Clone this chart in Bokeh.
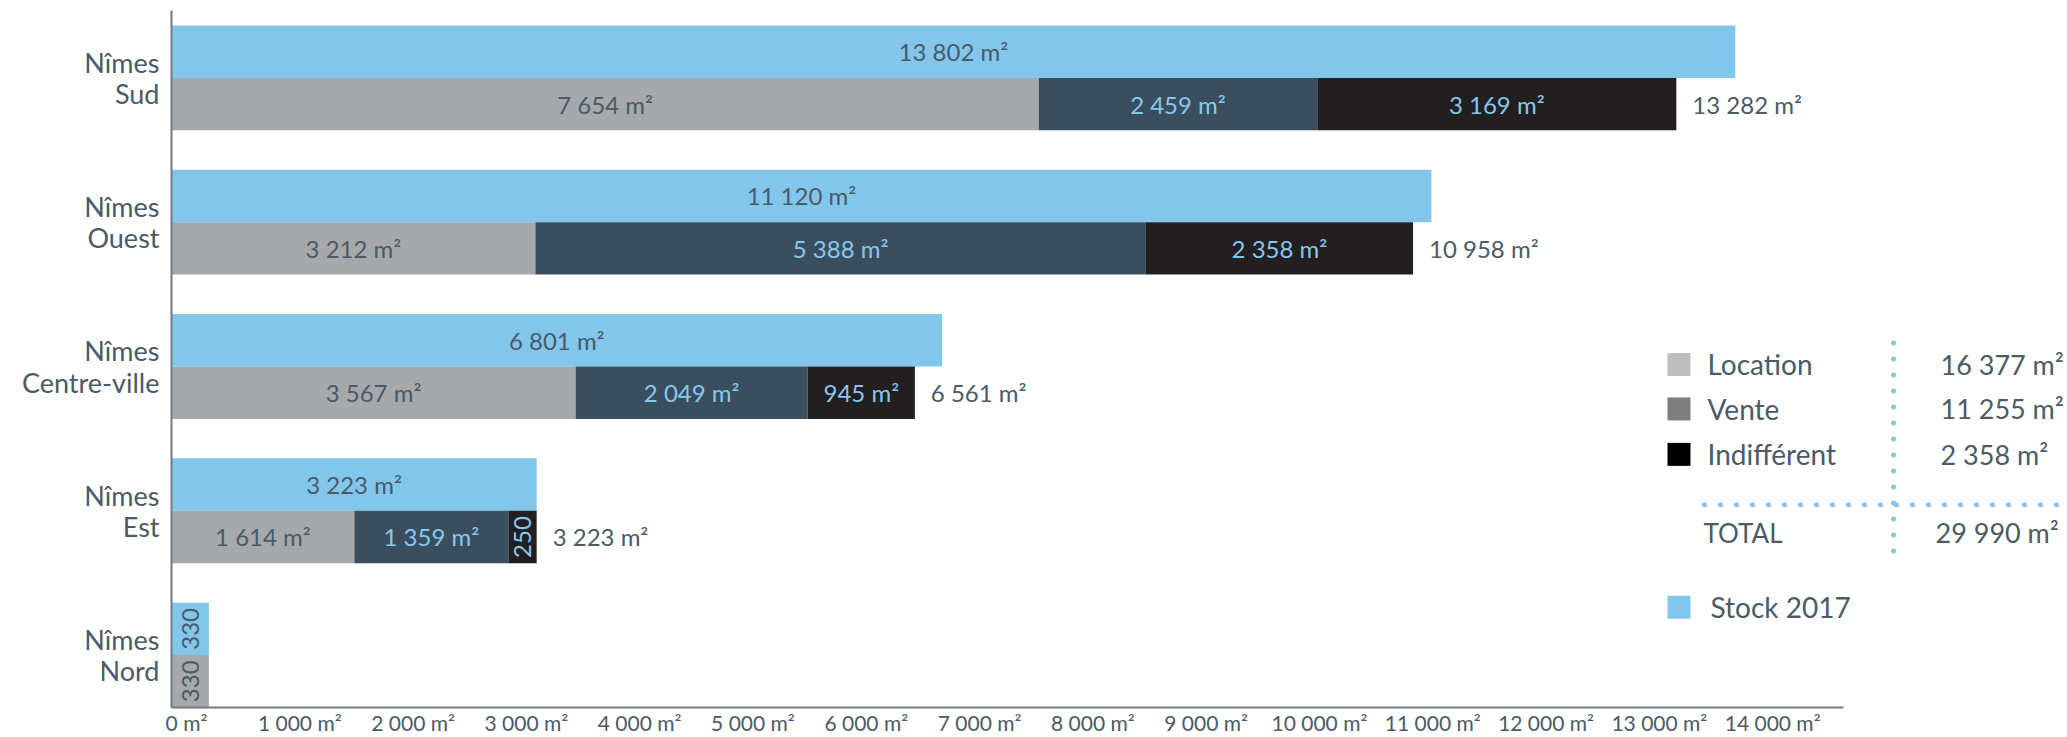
import math
from bokeh.plotting import figure
from bokeh.models import ColumnDataSource, Range1d, FixedTicker, LinearAxis
from bokeh.core.properties import value
from bokeh.embed import file_html
from bokeh.resources import INLINE

# ---------------- data ----------------
categories = ["Nîmes\nNord", "Nîmes\nEst", "Nîmes\nCentre-ville", "Nîmes\nOuest", "Nîmes\nSud"]
location = [330, 1614, 3567, 3212, 7654]
vente = [0, 1359, 2049, 5388, 2459]
indifferent = [0, 250, 945, 2358, 3169]
stock_2017 = [330, 3223, 6801, 11120, 13802]

legend_names = ["Location", "Vente", "Indifférent"]
legend_totals = [16377, 11255, 2358]
total_label = "TOTAL"
grand_total = 29990
stock_name = "Stock 2017"

x_ticks = [0, 1000, 2000, 3000, 4000, 5000, 6000, 7000, 8000, 9000, 10000, 11000, 12000, 13000, 14000]
x_tick_labels = ["0 m²", "1 000 m²", "2 000 m²", "3 000 m²", "4 000 m²", "5 000 m²", "6 000 m²",
                 "7 000 m²", "8 000 m²", "9 000 m²", "10 000 m²", "11 000 m²", "12 000 m²",
                 "13 000 m²", "14 000 m²"]

# ---------------- style ----------------
C_STOCK = "#83C6EC"
C_LOC = "#A7A8AB"
C_VENTE = "#3A4E5E"
C_IND = "#231F20"
LEG_COLORS = ["#BEBEBE", "#7F7F7F", "#000000"]
DARK = "#4A5A68"
LIGHT = "#86C8EE"
AXIS = "#6F7A85"
FONT = "Lato"

W, H = 2067, 737
F_LEFT, F_RIGHT, F_TOP, F_BOTTOM = 171, 2067, 10, 708
PX_PER_X = 0.1133
PX_PER_Y = 144.5
BAR_H = 0.3633
Y_START = -BAR_H
Y_END = Y_START + (F_BOTTOM - F_TOP) / PX_PER_Y
X_END = (F_RIGHT - F_LEFT) / PX_PER_X
TICK_SHIFT = 15 / PX_PER_X  # tick labels sit slightly right of their value


def sx(px):
    return (px - F_LEFT) / PX_PER_X


def sy(py):
    return Y_START + (F_BOTTOM - py) / PX_PER_Y


def fmt(v):
    return f"{v:,}".replace(",", " ") + " m²"


p = figure(width=W, height=H, x_range=Range1d(0, X_END), y_range=Range1d(Y_START, Y_END),
           output_backend="svg", toolbar_location=None, x_axis_location=None,
           min_border_left=F_LEFT, min_border_right=0, min_border_top=F_TOP,
           min_border_bottom=H - F_BOTTOM)
p.outline_line_color = None
p.grid.visible = False
p.background_fill_color = "white"
p.border_fill_color = "white"

# ---------------- bars ----------------
ys = list(range(len(categories)))

stock_src = ColumnDataSource(dict(
    y=[k + BAR_H / 2 for k in ys], right=stock_2017, left=[0] * len(ys),
    mid=[v / 2 for v in stock_2017],
    label=[fmt(v) if v >= 1000 else str(v) for v in stock_2017],
    angle=[0 if v >= 1000 else math.pi / 2 for v in stock_2017],
))
p.hbar(y="y", left="left", right="right", height=BAR_H, source=stock_src,
       fill_color=C_STOCK, line_color=None)

series = [(location, C_LOC, DARK), (vente, C_VENTE, LIGHT), (indifferent, C_IND, LIGHT)]
seg = dict(y=[], left=[], right=[], color=[], mid=[], label=[], tcolor=[], angle=[])
for k in ys:
    cum = 0
    for vals, col, tcol in series:
        v = vals[k]
        if v <= 0:
            continue
        seg["y"].append(k - BAR_H / 2)
        seg["left"].append(cum)
        seg["right"].append(cum + v)
        seg["color"].append(col)
        seg["mid"].append(cum + v / 2)
        small = v < 600
        seg["label"].append(str(v) if small else fmt(v))
        seg["angle"].append(math.pi / 2 if small else 0)
        seg["tcolor"].append(tcol)
        cum += v
seg_src = ColumnDataSource(seg)
p.hbar(y="y", left="left", right="right", height=BAR_H, source=seg_src,
       fill_color="color", line_color=None)

# labels inside bars
p.text(x="mid", y="y", text="label", angle="angle", source=stock_src,
       text_font=value(FONT), text_font_size="24px", text_color=DARK,
       text_align="center", text_baseline="middle")
p.text(x="mid", y="y", text="label", angle="angle", source=seg_src,
       text_font=value(FONT), text_font_size="24px", text_color="tcolor",
       text_align="center", text_baseline="middle")

# totals at the end of the stacked bars
tot = dict(x=[], y=[], label=[])
for k in ys:
    parts = [location[k], vente[k], indifferent[k]]
    if sum(1 for v in parts if v > 0) > 1:
        tot["x"].append(sum(parts))
        tot["y"].append(k - BAR_H / 2)
        tot["label"].append(fmt(sum(parts)))
p.text(x="x", y="y", text="label", source=ColumnDataSource(tot), x_offset=16,
       text_font=value(FONT), text_font_size="24px", text_color=DARK,
       text_align="left", text_baseline="middle")

# ---------------- axes ----------------
p.extra_x_ranges = {"ticks": Range1d(-TICK_SHIFT, X_END - TICK_SHIFT)}
xax = LinearAxis(x_range_name="ticks")
xax.ticker = FixedTicker(ticks=x_ticks)
xax.major_label_overrides = {t: l for t, l in zip(x_ticks, x_tick_labels)}
xax.bounds = (-TICK_SHIFT, sx(1843) - TICK_SHIFT)
p.add_layout(xax, "below")

p.yaxis.ticker = FixedTicker(ticks=ys)
p.yaxis.major_label_overrides = {k: c for k, c in zip(ys, categories)}
for ax in (xax, p.yaxis[0]):
    ax.axis_line_color = AXIS
    ax.axis_line_width = 2
    ax.major_tick_line_color = None
    ax.minor_tick_line_color = None
    ax.major_tick_out = 0
    ax.major_tick_in = 0
    ax.minor_tick_out = 0
    ax.minor_tick_in = 0
    ax.major_label_text_font = FONT
    ax.major_label_text_color = DARK
xax.major_label_text_font_size = "21px"
xax.major_label_standoff = 2
p.yaxis.major_label_text_font_size = "27px"
p.yaxis.major_label_standoff = 12
p.yaxis.major_label_text_line_height = 0.95

# ---------------- legend ----------------
leg_y = [364.5, 409.0, 454.5]
p.scatter(x=[sx(1678.5)] * 3, y=[sy(v) for v in leg_y], marker="square", size=23,
          fill_color=LEG_COLORS, line_color=None)
p.text(x=[sx(1707)] * 3, y=[sy(v) for v in leg_y], text=legend_names,
       text_font=value(FONT), text_font_size="28px", text_color=DARK,
       text_baseline="middle", text_align="left")
p.text(x=[sx(1940)] * 3, y=[sy(v) for v in leg_y], text=[fmt(v) for v in legend_totals],
       text_font=value(FONT), text_font_size="27px", text_color=DARK,
       text_baseline="middle", text_align="left")
p.text(x=[sx(1703)], y=[sy(533)], text=[total_label],
       text_font=value(FONT), text_font_size="26px", text_color=DARK,
       text_baseline="middle", text_align="left")
p.text(x=[sx(1935)], y=[sy(533)], text=[fmt(grand_total)],
       text_font=value(FONT), text_font_size="27px", text_color=DARK,
       text_baseline="middle", text_align="left")
p.scatter(x=[sx(1678.5)], y=[sy(607.5)], marker="square", size=23,
          fill_color=C_STOCK, line_color=None)
p.text(x=[sx(1710)], y=[sy(607.5)], text=[stock_name],
       text_font=value(FONT), text_font_size="28px", text_color=DARK,
       text_baseline="middle", text_align="left")

# dotted separators
p.line(x=[sx(1893), sx(1893)], y=[sy(343), sy(556)], line_color=C_STOCK, line_width=5,
       line_dash="0 16", line_cap="round")
p.line(x=[sx(1704), sx(2067)], y=[sy(505), sy(505)], line_color=C_STOCK, line_width=5,
       line_dash="0 16", line_cap="round")

open("out.html", "w").write(file_html(p, INLINE))
